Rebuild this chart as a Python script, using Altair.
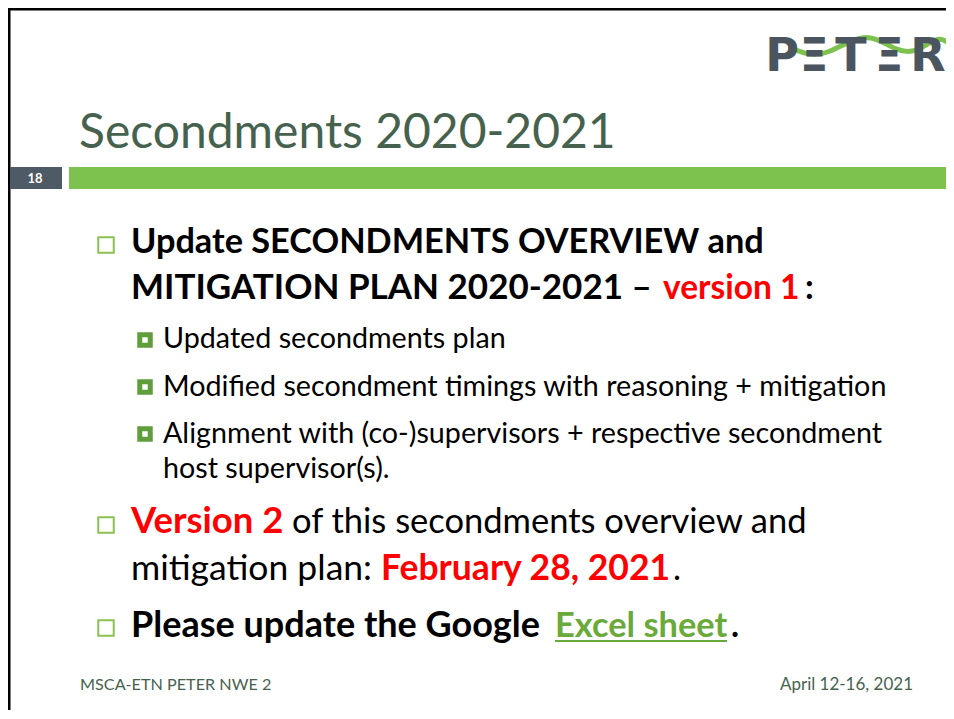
import altair as alt
import pandas as pd

# ---------------- content ----------------
title_text = ["Secondments 2020-2021"]
slide_number = ["18"]

main_runs_text = [
    "Update SECONDMENTS OVERVIEW and",
    "MITIGATION PLAN 2020-2021 –",
    "version 1",
    ":",
    "Version 2",
    "of this secondments overview and",
    "mitigation plan:",
    "February 28, 2021",
    ".",
    "Please update the Google",
    "Excel sheet",
    ".",
]
main_runs_style = ["bold", "bold", "bold", "bold", "bold", "normal",
                   "normal", "bold", "normal", "bold", "bold", "bold"]
main_runs_color = ["#000000", "#000000", "#FF0000", "#000000", "#FF0000", "#000000",
                   "#000000", "#FF0000", "#000000", "#000000", "#6AAA3A", "#000000"]

sub_text = [
    "Updated secondments plan",
    "Modified secondment timings with reasoning + mitigation",
    "Alignment with (co-)supervisors + respective secondment",
    "host supervisor(s).",
]
footer_text = ["MSCA-ETN PETER NWE 2", "April 12-16, 2021"]
logo_letters = ["P", "Ξ", "T", "Ξ", "R"]

# ---------------- layout (image pixel coordinates) ----------------
W, H = 938, 702
main_runs_x = [131, 131, 663, 805, 131, 292, 131, 381, 673, 131, 555, 731]
main_runs_y = [253, 299, 299, 299, 533, 533, 580, 580, 580, 637, 637, 637]
main_runs_size = [34.3, 35, 33.5, 34, 36.5, 34.5, 35.5, 35.5, 34, 36, 34.4, 34]
sub_x = [163, 163, 163, 163]
sub_y = [348, 396, 443, 478]
SUB_SIZE = 28.7
main_bullet_x = [106, 106, 106]
main_bullet_y = [245, 525, 628]
sub_bullet_x = [145, 145, 145]
sub_bullet_y = [340, 387, 434]
logo_x = [782, 814, 851, 889, 928]
logo_wave_x = [796, 812, 830, 848, 864, 880, 896, 912, 928, 940, 950]
logo_wave_y = [50, 56, 52, 42, 36, 40, 50, 53, 44, 37, 44]
footer_x = [80, 913]
footer_y = [690, 690]
footer_size = [16.2, 17]
footer_align = ["left", "right"]

xs = alt.Scale(domain=[8, 8 + W], range=[0, W], zero=False, nice=False)
ys = alt.Scale(domain=[8, 8 + H], range=[0, H], zero=False, nice=False)


def X(f="x"):
    return alt.X(f"{f}:Q", scale=xs, axis=None)


def Y(f="y"):
    return alt.Y(f"{f}:Q", scale=ys, axis=None)


layers = []

# frame borders
frame = pd.DataFrame({"x": [9, 8], "x2": [9, 8 + W], "y": [8, 9], "y2": [8 + H, 9]})
layers.append(alt.Chart(frame).mark_rule(color="#000000", strokeWidth=3).encode(
    x=X(), x2="x2:Q", y=Y(), y2="y2:Q"))

# header bars
bars = pd.DataFrame({"x": [10, 69], "x2": [62, 8 + W], "y": [167, 167], "y2": [189, 189],
                     "c": ["#4E5A65", "#7DC24E"]})
layers.append(alt.Chart(bars).mark_rect().encode(
    x=X(), x2="x2:Q", y=Y(), y2="y2:Q", color=alt.Color("c:N", scale=None)))

# slide number
layers.append(alt.Chart(pd.DataFrame({"t": slide_number, "x": [35], "y": [183]})).mark_text(
    font="Lato", fontWeight="bold", fontSize=13, color="#FFFFFF", align="center", baseline="alphabetic"
).encode(x=X(), y=Y(), text="t:N"))

# title
layers.append(alt.Chart(pd.DataFrame({"t": title_text, "x": [79], "y": [148]})).mark_text(
    font="Lato", fontSize=48, color="#46624F", align="left", baseline="alphabetic"
).encode(x=X(), y=Y(), text="t:N"))

# logo
layers.append(alt.Chart(pd.DataFrame({"x": logo_wave_x, "y": logo_wave_y})).mark_line(
    color="#7DC24E", strokeWidth=5, interpolate="basis").encode(x=X(), y=Y()))
layers.append(alt.Chart(pd.DataFrame({"t": logo_letters, "x": logo_x, "y": [71] * 5})).mark_text(
    font="DejaVu Sans", fontWeight="bold", fontSize=46, color="#4B555F", align="center", baseline="alphabetic"
).encode(x=X(), y=Y(), text="t:N"))

# bullets
layers.append(alt.Chart(pd.DataFrame({"x": main_bullet_x, "y": main_bullet_y})).mark_square(
    size=240, filled=False, stroke="#8CC152", strokeWidth=2, fill="#FFFFFF", fillOpacity=1
).encode(x=X(), y=Y()))
layers.append(alt.Chart(pd.DataFrame({"x": sub_bullet_x, "y": sub_bullet_y})).mark_square(
    size=110, filled=False, stroke="#5E9F3B", strokeWidth=5, fill="#FFFFFF", fillOpacity=1
).encode(x=X(), y=Y()))

# main text runs
runs = pd.DataFrame({"t": main_runs_text, "x": main_runs_x, "y": main_runs_y,
                     "w": main_runs_style, "c": main_runs_color, "s": main_runs_size})
for w in ["bold", "normal"]:
    layers.append(alt.Chart(runs[runs.w == w]).mark_text(
        font="Lato", fontWeight=w, align="left", baseline="alphabetic"
    ).encode(x=X(), y=Y(), text="t:N", color=alt.Color("c:N", scale=None),
             size=alt.Size("s:Q", scale=None, legend=None)))

# underline for hyperlink
ul = pd.DataFrame({"x": [555], "x2": [727], "y": [641]})
layers.append(alt.Chart(ul).mark_rule(color="#6AAA3A", strokeWidth=2).encode(
    x=X(), x2="x2:Q", y=Y()))

# sub-bullet text
layers.append(alt.Chart(pd.DataFrame({"t": sub_text, "x": sub_x, "y": sub_y})).mark_text(
    font="Lato", fontSize=SUB_SIZE, color="#000000", align="left", baseline="alphabetic"
).encode(x=X(), y=Y(), text="t:N"))

# footer
foot = pd.DataFrame({"t": footer_text, "x": footer_x, "y": footer_y, "s": footer_size, "a": footer_align})
for a in ["left", "right"]:
    layers.append(alt.Chart(foot[foot.a == a]).mark_text(
        font="Lato", color="#46624F", align=a, baseline="alphabetic"
    ).encode(x=X(), y=Y(), text="t:N", size=alt.Size("s:Q", scale=None, legend=None)))

chart = alt.layer(*layers).properties(
    width=W, height=H, padding=0, autosize=alt.AutoSizeParams(type="none"), background="#FFFFFF"
).configure_view(stroke=None)

chart.save("out.html", embed_options={"renderer": "svg", "actions": False})
